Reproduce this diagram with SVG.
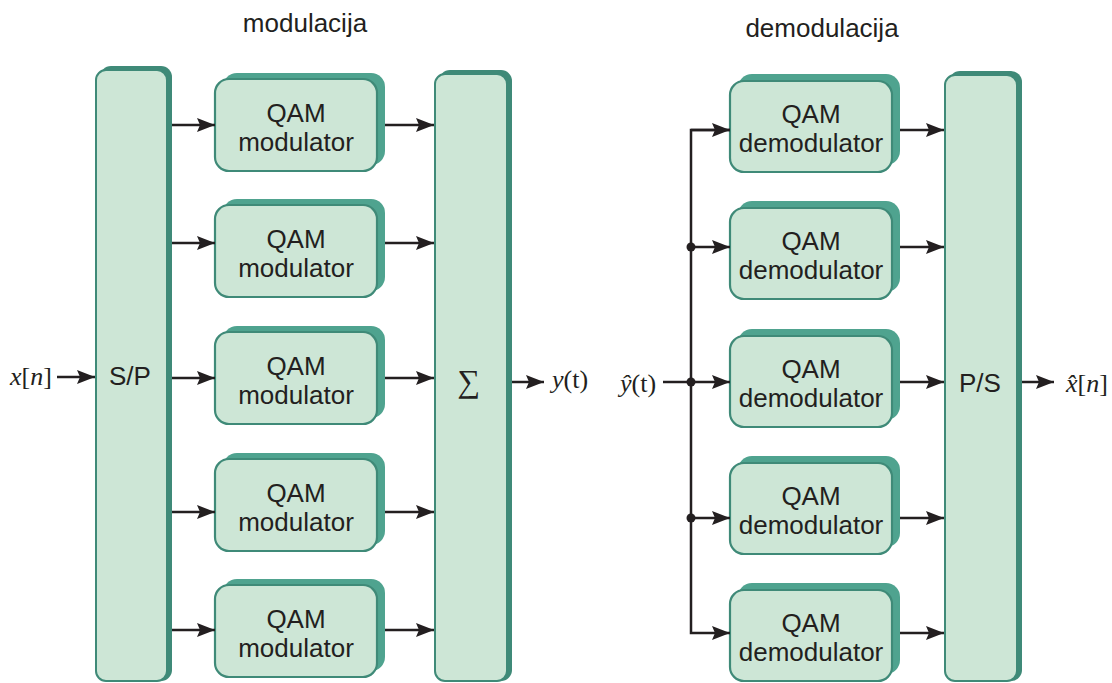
<svg xmlns="http://www.w3.org/2000/svg" width="1112" height="683" viewBox="0 0 1112 683">
<style>
.bar{fill:#cde6d6;stroke:#3f8a78;stroke-width:2}
.barsh{fill:#3f8a78}
.box{fill:#cde6d6;stroke:#3f8a78;stroke-width:2.2}
.boxsh{fill:#4fa38f}
.t{font-family:"Liberation Sans",Arial,sans-serif;font-size:26px;fill:#231f20;text-anchor:middle}
.m{font-family:"Liberation Serif","Times New Roman",serif;font-size:26px;fill:#231f20}
.w{stroke:#231f20;stroke-width:2.5;fill:none}
</style>
<defs>
<marker id="ah" markerUnits="userSpaceOnUse" markerWidth="20" markerHeight="16" refX="18" refY="7" orient="auto">
<path d="M0,0 L18,7 L0,14 L3,7 z" fill="#231f20"/>
</marker>
</defs>
<text class="t" x="305" y="32">modulacija</text>
<text class="t" x="822" y="37">demodulacija</text>
<g id="sp">
<rect class="barsh" x="100" y="66" width="72" height="615" rx="11"/>
<rect class="bar" x="96" y="70" width="71" height="611" rx="10"/>
<text class="t" x="130" y="385">S/P</text>
</g>
<g id="sum">
<rect class="barsh" x="439" y="70" width="73" height="611" rx="11"/>
<rect class="bar" x="435" y="74" width="72" height="607" rx="10"/>
<text x="469" y="392" style="font-family:'Liberation Serif','Times New Roman',serif;font-size:32px;fill:#231f20;text-anchor:middle">∑</text>
</g>
<g id="ps">
<rect class="barsh" x="949" y="71" width="73" height="610" rx="11"/>
<rect class="bar" x="945" y="75" width="72" height="606" rx="10"/>
<text class="t" x="980" y="392">P/S</text>
</g>
<g id="mod1"><rect class="boxsh" x="223" y="73" width="162" height="92" rx="14"/><rect class="box" x="215" y="79" width="162" height="92" rx="14"/><text class="t" x="296" y="122">QAM</text><text class="t" x="296" y="151">modulator</text></g>
<g id="mod2"><rect class="boxsh" x="223" y="199" width="162" height="92" rx="14"/><rect class="box" x="215" y="205" width="162" height="92" rx="14"/><text class="t" x="296" y="248">QAM</text><text class="t" x="296" y="277">modulator</text></g>
<g id="mod3"><rect class="boxsh" x="223" y="326" width="162" height="92" rx="14"/><rect class="box" x="215" y="332" width="162" height="92" rx="14"/><text class="t" x="296" y="375">QAM</text><text class="t" x="296" y="404">modulator</text></g>
<g id="mod4"><rect class="boxsh" x="223" y="453" width="162" height="92" rx="14"/><rect class="box" x="215" y="459" width="162" height="92" rx="14"/><text class="t" x="296" y="502">QAM</text><text class="t" x="296" y="531">modulator</text></g>
<g id="mod5"><rect class="boxsh" x="223" y="579" width="162" height="92" rx="14"/><rect class="box" x="215" y="585" width="162" height="92" rx="14"/><text class="t" x="296" y="628">QAM</text><text class="t" x="296" y="657">modulator</text></g>
<g id="dem1"><rect class="boxsh" x="738" y="74" width="162" height="91" rx="14"/><rect class="box" x="730" y="81" width="162" height="91" rx="14"/><text class="t" x="811" y="123">QAM</text><text class="t" x="811" y="152">demodulator</text></g>
<g id="dem2"><rect class="boxsh" x="738" y="201" width="162" height="91" rx="14"/><rect class="box" x="730" y="208" width="162" height="91" rx="14"/><text class="t" x="811" y="250">QAM</text><text class="t" x="811" y="279">demodulator</text></g>
<g id="dem3"><rect class="boxsh" x="738" y="329" width="162" height="91" rx="14"/><rect class="box" x="730" y="336" width="162" height="91" rx="14"/><text class="t" x="811" y="378">QAM</text><text class="t" x="811" y="407">demodulator</text></g>
<g id="dem4"><rect class="boxsh" x="738" y="456" width="162" height="91" rx="14"/><rect class="box" x="730" y="463" width="162" height="91" rx="14"/><text class="t" x="811" y="505">QAM</text><text class="t" x="811" y="534">demodulator</text></g>
<g id="dem5"><rect class="boxsh" x="738" y="583" width="162" height="91" rx="14"/><rect class="box" x="730" y="590" width="162" height="91" rx="14"/><text class="t" x="811" y="632">QAM</text><text class="t" x="811" y="661">demodulator</text></g>
<g id="labels">
<text class="m" x="10" y="385"><tspan font-style="italic">x</tspan>[<tspan font-style="italic">n</tspan>]</text>
<text class="m" x="552" y="388"><tspan font-style="italic">y</tspan>(t)</text>
<text class="m" x="620" y="392"><tspan font-style="italic">y&#x302;</tspan>(t)</text>
<text class="m" x="1066" y="392"><tspan font-style="italic">x&#x302;</tspan>[<tspan font-style="italic">n</tspan>]</text>
</g>
<g id="connectors">
<line class="w" x1="57" y1="377" x2="95" y2="377" marker-end="url(#ah)"/>
<line class="w" x1="172" y1="125" x2="215" y2="125" marker-end="url(#ah)"/>
<line class="w" x1="172" y1="243" x2="215" y2="243" marker-end="url(#ah)"/>
<line class="w" x1="172" y1="378" x2="215" y2="378" marker-end="url(#ah)"/>
<line class="w" x1="172" y1="512" x2="215" y2="512" marker-end="url(#ah)"/>
<line class="w" x1="172" y1="630" x2="215" y2="630" marker-end="url(#ah)"/>
<line class="w" x1="385" y1="125" x2="434" y2="125" marker-end="url(#ah)"/>
<line class="w" x1="385" y1="243" x2="434" y2="243" marker-end="url(#ah)"/>
<line class="w" x1="385" y1="378" x2="434" y2="378" marker-end="url(#ah)"/>
<line class="w" x1="385" y1="512" x2="434" y2="512" marker-end="url(#ah)"/>
<line class="w" x1="385" y1="630" x2="434" y2="630" marker-end="url(#ah)"/>
<line class="w" x1="512" y1="382" x2="544" y2="382" marker-end="url(#ah)"/>
<line class="w" x1="663" y1="382" x2="691" y2="382"/>
<path class="w" d="M730,130 H691 V633 H730" marker-end="url(#ah)"/>
<line class="w" x1="691" y1="130" x2="730" y2="130" marker-end="url(#ah)"/>
<line class="w" x1="691" y1="247" x2="730" y2="247" marker-end="url(#ah)"/>
<line class="w" x1="691" y1="382" x2="730" y2="382" marker-end="url(#ah)"/>
<line class="w" x1="691" y1="518" x2="730" y2="518" marker-end="url(#ah)"/>
<circle cx="691" cy="247" r="4.5" fill="#231f20"/>
<circle cx="691" cy="382" r="4.5" fill="#231f20"/>
<circle cx="691" cy="518" r="4.5" fill="#231f20"/>
<line class="w" x1="900" y1="130" x2="944" y2="130" marker-end="url(#ah)"/>
<line class="w" x1="900" y1="247" x2="944" y2="247" marker-end="url(#ah)"/>
<line class="w" x1="900" y1="382" x2="944" y2="382" marker-end="url(#ah)"/>
<line class="w" x1="900" y1="518" x2="944" y2="518" marker-end="url(#ah)"/>
<line class="w" x1="900" y1="633" x2="944" y2="633" marker-end="url(#ah)"/>
<line class="w" x1="1022" y1="382" x2="1054" y2="382" marker-end="url(#ah)"/>
</g>
</svg>
